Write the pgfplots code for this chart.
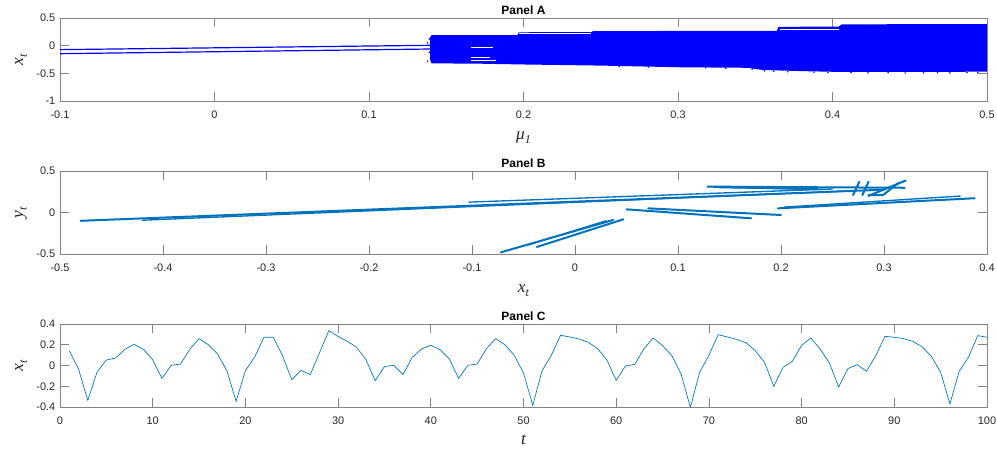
\documentclass[border=0pt]{standalone}
\usepackage{fontspec}
\setmainfont{Liberation Sans}
\newfontfamily\labfont{Liberation Serif}
\usepackage{pgfplots}
\pgfplotsset{compat=1.18}

\definecolor{mblue}{RGB}{0,114,189}
\definecolor{axgray}{RGB}{130,130,130}
\definecolor{txtgray}{RGB}{38,38,38}

\pgfplotsset{
  panel/.style={
    scale only axis, width=695.25pt, height=62.25pt,
    axis line style={axgray, line width=0.6pt},
    tick style={axgray, line width=0.6pt},
    tick align=inside, major tick length=6.5pt,
    xtick pos=both, ytick pos=both,
    xticklabel pos=lower, yticklabel pos=left,
    tick label style={font=\fontsize{8.2}{9.8}\selectfont, text=txtgray},
    xticklabel style={yshift=-3.5pt},
    /pgf/number format/assume math mode=true,
    /pgf/number format/fixed, /pgf/number format/precision=2,
    scaled ticks=false,
    every axis title shift=0pt,
    title style={at={(axis description cs:0.5,1)}, anchor=base, yshift=2.8pt,
                 font=\bfseries\fontsize{9}{11}\selectfont, text=black},
    xlabel style={at={(axis description cs:0.5,-0.44)}, anchor=center,
                  font=\fontsize{13}{15}\selectfont, text=txtgray},
    ylabel style={at={(axis description cs:-0.042,0.5)}, anchor=center,
                  font=\fontsize{13}{15}\selectfont, text=txtgray},
    clip=true,
  },
  traj/.style={mblue, line width=1.5pt, line cap=round},
  trajthin/.style={mblue, line width=1.0pt, line cap=round},
}

\newcommand{\lab}[2]{{\labfont\itshape #1\raisebox{-0.45ex}{\fontsize{9}{10}\selectfont #2}}}

\begin{document}
\begin{tikzpicture}
\path[use as bounding box] (0,0) rectangle (747.75pt,-336.75pt);

% ---------------- Panel A: bifurcation diagram ----------------
\begin{axis}[panel, at={(45pt,-13.5pt)}, anchor=north west,
  title={Panel A},
  xmin=-0.1, xmax=0.5, ymin=-1, ymax=0.5,
  xtick={-0.1,0,0.1,0.2,0.3,0.4,0.5},
  ytick={-1,-0.5,0,0.5},
  xlabel={\lab{μ}{1}}, ylabel={\lab{x}{t}}]
% two stable branches before the onset of chaos
\addplot[blue, line width=0.9pt] coordinates {(-0.1,-0.072) (0.141,0.007)};
\addplot[blue, line width=0.9pt] coordinates {(-0.1,-0.145) (0.141,-0.060)};
% chaotic band
\addplot[blue, fill=blue, draw=none] coordinates {
  (0.1395,0.150) (0.1405,0.190) (0.196,0.190) (0.197,0.242) (0.244,0.245)
  (0.245,0.262) (0.300,0.266) (0.364,0.268) (0.365,0.340) (0.404,0.345)
  (0.406,0.385) (0.450,0.388) (0.500,0.390)
  (0.500,-0.470) (0.450,-0.475) (0.405,-0.475) (0.380,-0.460) (0.355,-0.440)
  (0.345,-0.400) (0.300,-0.390) (0.250,-0.360) (0.224,-0.350) (0.200,-0.340)
  (0.170,-0.325) (0.1405,-0.320) (0.1395,-0.250)
} -- cycle;
% sparse orbit points along the band's edges
\addplot[blue, only marks, mark=*, mark size=0.35pt] coordinates {
  (0.138,0.05) (0.139,-0.12) (0.138,-0.28) (0.139,0.12)
  (0.262,-0.375) (0.281,-0.385) (0.318,-0.400) (0.331,-0.405)
  (0.348,-0.425) (0.356,-0.455) (0.362,-0.462) (0.371,-0.470)
  (0.388,-0.478) (0.397,-0.485) (0.412,-0.487) (0.423,-0.492)
  (0.436,-0.488) (0.447,-0.494) (0.459,-0.490) (0.468,-0.486)
  (0.476,-0.492) (0.487,-0.484) (0.494,-0.488)
};
% periodic windows inside the band
\addplot[white, line width=0.7pt] coordinates {(0.197,0.222) (0.244,0.222)};
\addplot[white, line width=0.7pt] coordinates {(0.366,0.298) (0.404,0.298)};
\addplot[white, line width=0.7pt] coordinates {(0.166,-0.025) (0.180,-0.025)};
\addplot[white, line width=0.7pt] coordinates {(0.166,-0.210) (0.178,-0.210)};
\addplot[white, line width=0.7pt] coordinates {(0.166,-0.270) (0.182,-0.270)};
\end{axis}

% ---------------- Panel B: phase portrait ----------------
\begin{axis}[panel, at={(45pt,-128.25pt)}, anchor=north west,
  title={Panel B},
  xmin=-0.5, xmax=0.4, ymin=-0.5, ymax=0.5,
  xtick={-0.5,-0.4,-0.3,-0.2,-0.1,0,0.1,0.2,0.3,0.4},
  ytick={-0.5,0,0.5},
  xlabel={\lab{x}{t}}, ylabel={\lab{y}{t}}]
% long excursions
\addplot[traj] coordinates {(-0.480,-0.100) (0.300,0.275)};
\addplot[trajthin] coordinates {(-0.420,-0.093) (0.270,0.262)};
\addplot[trajthin] coordinates {(-0.103,0.125) (0.250,0.283)};
% upper cluster
\addplot[traj] coordinates {(0.235,0.283) (0.128,0.312) (0.320,0.298)};
\addplot[trajthin] coordinates {(0.140,0.300) (0.240,0.278)};
\addplot[traj] coordinates {(0.270,0.210) (0.276,0.370)};
\addplot[traj] coordinates {(0.279,0.210) (0.285,0.370)};
\addplot[traj] coordinates {(0.285,0.200) (0.321,0.385)};
\addplot[traj] coordinates {(0.285,0.210) (0.299,0.210) (0.314,0.355)};
% right-hand branch
\addplot[traj] coordinates {(0.197,0.050) (0.388,0.172)};
\addplot[trajthin] coordinates {(0.203,0.065) (0.374,0.198)};
% middle branch
\addplot[traj] coordinates {(0.050,0.038) (0.171,-0.070)};
\addplot[traj] coordinates {(0.071,0.050) (0.200,-0.030)};
% lower-left branch
\addplot[traj] coordinates {(-0.072,-0.480) (0.037,-0.090)};
\addplot[traj] coordinates {(-0.037,-0.415) (0.047,-0.082)};
\addplot[trajthin] coordinates {(-0.045,-0.390) (0.030,-0.100)};
\end{axis}

% ---------------- Panel C: time series ----------------
\begin{axis}[panel, at={(45pt,-243pt)}, anchor=north west,
  title={Panel C},
  xmin=0, xmax=100, ymin=-0.4, ymax=0.4,
  xtick={0,10,20,30,40,50,60,70,80,90,100},
  ytick={-0.4,-0.2,0,0.2,0.4},
  xlabel style={at={(axis description cs:0.5,-0.40)}},
  xlabel={{\labfont\itshape t}}, ylabel={\lab{x}{t}}]
\addplot[mblue, line width=0.5pt] coordinates {
(1,0.143) (2,-0.034) (3,-0.336) (4,-0.063) (5,0.053) (6,0.072) (7,0.156) (8,0.204)
(9,0.156) (10,0.056) (11,-0.124) (12,0.002) (13,0.014) (14,0.156) (15,0.259) (16,0.200)
(17,0.111) (18,-0.050) (19,-0.345) (20,-0.050) (21,0.082) (22,0.272) (23,0.272) (24,0.095)
(25,-0.137) (26,-0.047) (27,-0.088) (28,0.124) (29,0.336) (30,0.280) (31,0.233) (32,0.175)
(33,0.056) (34,-0.146) (35,-0.011) (36,0.002) (37,-0.088) (38,0.079) (39,0.159) (40,0.195)
(41,0.152) (42,0.063) (43,-0.124) (44,0.002) (45,0.014) (46,0.162) (47,0.259) (48,0.200)
(49,0.098) (50,-0.072) (51,-0.384) (52,-0.050) (53,0.098) (54,0.291) (55,0.275) (56,0.255)
(57,0.223) (58,0.162) (59,0.053) (60,-0.143) (61,-0.005) (62,0.011) (63,0.162) (64,0.265)
(65,0.191) (66,0.095) (67,-0.082) (68,-0.403) (69,-0.066) (70,0.098) (71,0.297) (72,0.275)
(73,0.252) (74,0.220) (75,0.143) (76,0.031) (77,-0.200) (78,-0.018) (79,0.040) (80,0.195)
(81,0.265) (82,0.159) (83,0.024) (84,-0.207) (85,-0.030) (86,0.008) (87,-0.056) (88,0.095)
(89,0.281) (90,0.272) (91,0.259) (92,0.233) (93,0.181) (94,0.088) (95,-0.066) (96,-0.371)
(97,-0.056) (98,0.079) (99,0.288) (100,0.272)
};
\end{axis}
\end{tikzpicture}
\end{document}
